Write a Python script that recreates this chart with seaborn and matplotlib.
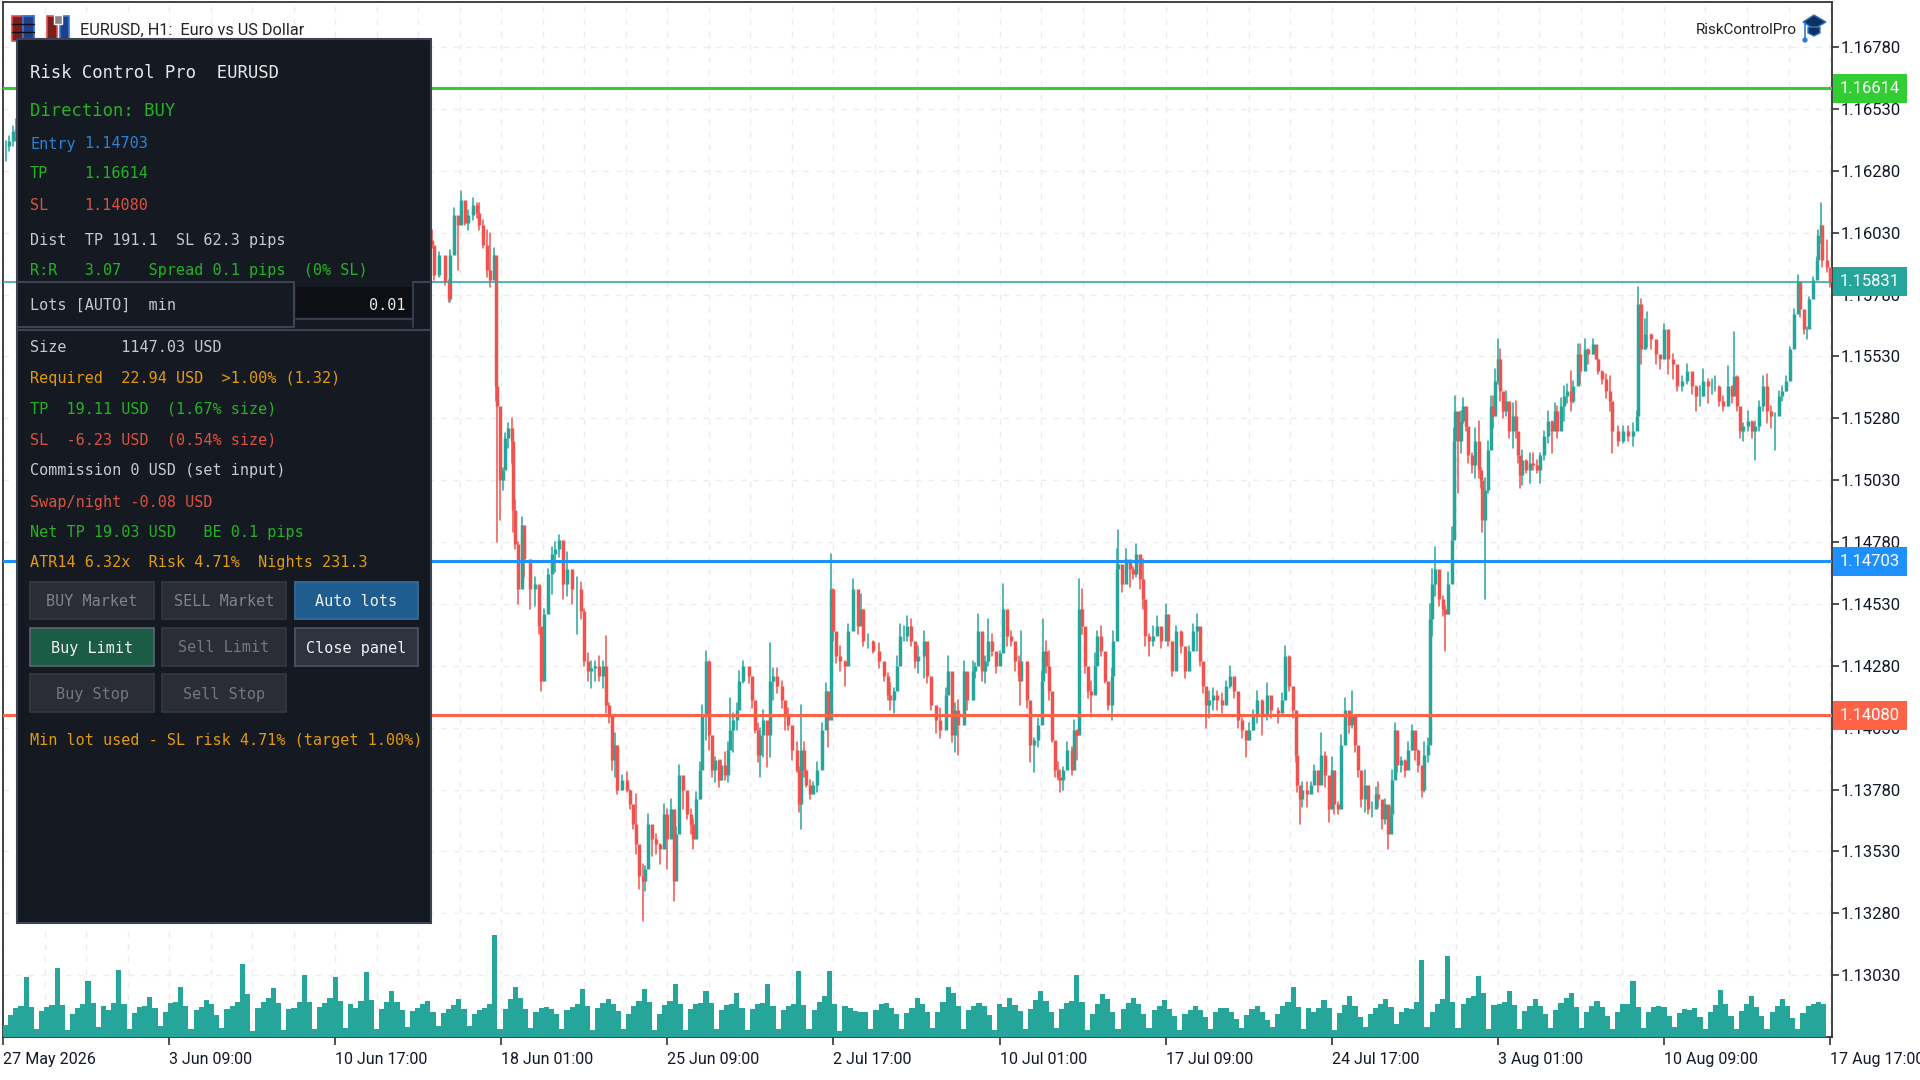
import numpy as np
import pandas as pd
import matplotlib
matplotlib.use("Agg")
import matplotlib.pyplot as plt
from matplotlib.patches import Rectangle, Polygon, Circle
import seaborn as sns

# ── data ───────────────────────────────────────────────────────────────────────
# prices are in 1/10000 of a dollar, bar = hours counted from 27 May 2026
price_ticks = [1.16780, 1.16530, 1.16280, 1.16030, 1.15780, 1.15530, 1.15280, 1.15030,
               1.14780, 1.14530, 1.14280, 1.14030, 1.13780, 1.13530, 1.13280, 1.13030]
time_labels = ["27 May 2026", "3 Jun 09:00", "10 Jun 17:00", "18 Jun 01:00", "25 Jun 09:00", "2 Jul 17:00",
               "10 Jul 01:00", "17 Jul 09:00", "24 Jul 17:00", "3 Aug 01:00", "10 Aug 09:00", "17 Aug 17:00"]

tp_price = 1.16614
entry_price = 1.14703
sl_price = 1.14080
last_price = 1.15831

bars = [2,5,8,10,330,333,335,339,343,346,
        347,350,353,356,359,361,365,368,370,373,
        376,378,381,383,384,386,388,390,392,395,
        396,398,400,403,405,409,413,416,418,420,
        423,426,429,432,435,438,442,446,449,451,
        454,457,460,463,466,468,471,473,475,477,
        481,485,487,489,492,494,497,499,501,504,
        507,510,513,516,519,521,523,525,528,531,
        534,536,538,541,543,546,548,551,553,556,
        558,561,563,565,567,570,572,575,579,582,
        584,586,588,590,593,596,598,601,605,607,
        610,613,617,618,620,622,624,627,629,632,
        636,639,641,643,645,647,650,654,656,660,
        664,666,668,672,676,680,684,687,689,692,
        694,697,700,702,705,708,711,715,718,721,
        725,728,732,734,737,739,742,746,749,753,
        755,757,760,763,765,768,771,774,777,780,
        783,786,789,790,791,795,798,801,804,807,
        808,810,812,815,817,819,821,823,826,830,
        832,834,836,838,840,843,845,848,850,853,
        856,858,861,862,865,866,869,872,875,878,
        880,883,885,887,890,893,896,899,903,905,
        908,911,915,918,921,924,927,930,932,934,
        937,940,943,947,950,953,956,959,962,965,
        968,971,974,978,982,985,990,993,996,999,
        1002,1004,1005,1007,1009,1013,1016,1018,1021,1024,
        1027,1030,1032,1034,1037,1039,1042,1045,1048,1050,
        1052,1055,1058,1060,1063,1066,1068,1071,1073,1076,
        1078,1079,1081,1083,1086,1089,1091,1094,1097,1099,
        1102,1104,1107,1108,1110,1112,1115,1118,1120,1122,
        1125,1127,1128,1130,1132,1134,1136,1138,1141,1143,
        1146,1148,1149,1151,1153,1156,1157,1159,1161,1163,
        1165,1167,1170,1173,1175,1177,1178,1180,1183,1186,
        1188,1191,1194,1197,1200,1203,1205,1207,1210,1212,
        1215,1218,1219,1223,1225,1229,1231,1235,1237,1239,
        1242,1245,1248,1250,1254,1258,1262,1266,1269,1270,
        1272,1275,1277,1280,1284,1287,1290,1293,1297,1300,
        1304,1308,1312,1315,1318,1320,1324,1327,1330,1333,
        1336,1340,1343,1344,1347,1349,1351,1355,1358,1361,
        1364,1367,1370,1373,1376,1379,1382,1385,1388,1391,
        1394,1396,1399,1401,1403,1406,1409,1410,1412,1413,
        1417,1419]

highs = [11640,11642,11646,11649,11604,11604,11597,11595,11589,11584,
         11596,11613,11608,11620,11614,11612,11617,11615,11615,11608,
         11604,11603,11597,11589,11542,11506,11508,11522,11526,11528,
         11523,11495,11478,11488,11474,11468,11464,11457,11442,11451,
         11467,11476,11478,11481,11468,11474,11463,11464,11462,11451,
         11433,11430,11430,11432,11430,11440,11413,11403,11401,11386,
         11384,11385,11378,11370,11376,11354,11348,11347,11368,11362,
         11360,11356,11372,11370,11374,11347,11363,11388,11381,11374,
         11370,11366,11377,11389,11412,11434,11430,11393,11391,11390,
         11390,11393,11397,11415,11409,11413,11426,11430,11426,11423,
         11409,11405,11403,11410,11403,11437,11427,11427,11422,11411,
         11411,11403,11397,11387,11412,11397,11386,11382,11381,11389,
         11405,11421,11415,11473,11459,11438,11436,11430,11445,11463,
         11457,11457,11448,11441,11438,11437,11429,11425,11421,11419,
         11432,11445,11444,11448,11447,11437,11436,11442,11437,11423,
         11409,11411,11419,11432,11414,11413,11414,11430,11419,11430,
         11429,11449,11432,11432,11447,11441,11432,11434,11461,11448,
         11442,11436,11432,11430,11442,11418,11406,11399,11407,11426,
         11447,11438,11434,11407,11391,11389,11386,11387,11397,11395,
         11406,11402,11463,11459,11434,11426,11422,11433,11442,11444,
         11427,11419,11427,11442,11475,11483,11467,11475,11470,11468,
         11477,11471,11471,11449,11441,11444,11448,11441,11453,11441,
         11436,11444,11442,11430,11436,11445,11449,11441,11429,11417,
         11418,11419,11418,11417,11422,11428,11422,11415,11407,11401,
         11405,11410,11418,11414,11421,11414,11411,11417,11436,11432,
         11415,11406,11387,11377,11381,11381,11381,11388,11384,11401,
         11393,11379,11391,11378,11373,11400,11415,11409,11418,11403,
         11394,11383,11386,11374,11373,11379,11381,11373,11374,11363,
         11371,11386,11405,11392,11391,11390,11397,11404,11401,11394,
         11386,11397,11399,11453,11467,11476,11461,11456,11452,11466,
         11484,11524,11537,11524,11531,11536,11531,11522,11514,11524,
         11527,11508,11502,11504,11519,11537,11537,11548,11560,11556,
         11535,11539,11529,11534,11535,11522,11510,11515,11511,11514,
         11514,11511,11514,11523,11531,11527,11534,11533,11536,11541,
         11542,11547,11543,11558,11558,11560,11556,11560,11554,11552,
         11547,11546,11545,11525,11525,11525,11525,11526,11531,11581,
         11576,11568,11571,11562,11557,11553,11566,11557,11554,11546,
         11545,11550,11546,11541,11541,11548,11544,11544,11545,11541,
         11537,11549,11541,11563,11545,11530,11526,11531,11527,11527,
         11535,11545,11546,11533,11530,11539,11541,11545,11557,11572,
         11586,11583,11571,11565,11577,11585,11593,11604,11615,11603,
         11600,11588]

lows = [11632,11636,11638,11640,11597,11597,11584,11585,11582,11575,
        11575,11600,11588,11609,11606,11604,11608,11609,11604,11597,
        11585,11581,11587,11535,11478,11487,11499,11513,11516,11510,
        11482,11475,11453,11463,11464,11451,11452,11441,11418,11434,
        11452,11457,11466,11472,11455,11456,11453,11441,11447,11428,
        11422,11419,11422,11422,11419,11409,11405,11386,11383,11376,
        11378,11377,11370,11362,11352,11338,11325,11337,11348,11351,
        11352,11348,11358,11346,11359,11333,11350,11366,11370,11366,
        11360,11354,11369,11374,11393,11398,11394,11383,11381,11379,
        11383,11382,11381,11399,11393,11402,11411,11421,11421,11411,
        11401,11389,11383,11391,11387,11391,11414,11417,11411,11402,
        11402,11390,11385,11369,11362,11383,11379,11374,11376,11377,
        11389,11406,11395,11414,11438,11429,11426,11420,11436,11448,
        11441,11448,11436,11435,11433,11427,11422,11414,11410,11409,
        11422,11436,11438,11438,11436,11427,11425,11423,11421,11410,
        11401,11399,11410,11417,11397,11393,11392,11419,11410,11421,
        11423,11430,11422,11421,11428,11432,11425,11430,11440,11436,
        11436,11426,11422,11412,11428,11411,11389,11385,11395,11407,
        11425,11425,11414,11397,11383,11382,11377,11378,11389,11384,
        11397,11390,11409,11441,11425,11415,11409,11423,11433,11432,
        11421,11410,11406,11430,11442,11463,11458,11464,11460,11463,
        11464,11459,11451,11436,11432,11436,11441,11435,11440,11436,
        11424,11434,11433,11423,11428,11437,11434,11428,11417,11403,
        11407,11410,11410,11409,11417,11419,11415,11403,11399,11391,
        11398,11402,11405,11400,11406,11407,11405,11410,11423,11418,
        11407,11389,11377,11364,11371,11371,11376,11381,11377,11383,
        11379,11365,11374,11368,11368,11387,11401,11401,11403,11393,
        11383,11371,11369,11368,11367,11371,11371,11362,11364,11354,
        11361,11370,11387,11385,11385,11383,11387,11394,11390,11385,
        11375,11377,11389,11399,11440,11456,11452,11448,11434,11449,
        11467,11484,11503,11498,11514,11526,11523,11510,11506,11504,
        11504,11500,11482,11455,11498,11524,11524,11537,11542,11535,
        11528,11529,11520,11516,11520,11510,11500,11501,11506,11502,
        11507,11506,11502,11511,11518,11514,11526,11520,11529,11527,
        11534,11531,11534,11542,11542,11549,11550,11554,11552,11546,
        11542,11536,11531,11514,11517,11518,11519,11517,11526,11530,
        11550,11556,11557,11556,11550,11548,11553,11546,11544,11539,
        11539,11542,11538,11531,11533,11537,11534,11538,11539,11533,
        11531,11533,11534,11542,11531,11520,11519,11523,11520,11511,
        11523,11531,11526,11524,11515,11531,11535,11539,11550,11562,
        11576,11569,11562,11560,11572,11579,11585,11593,11599,11589,
        11587,11581]

closes = [11638,11640,11644,11645,11600,11598,11586,11594,11583,11576,
          11594,11610,11606,11616,11607,11610,11614,11611,11606,11598,
          11588,11584,11594,11541,11533,11503,11507,11520,11524,11519,
          11491,11477,11459,11485,11471,11459,11461,11444,11422,11449,
          11465,11473,11475,11479,11461,11467,11459,11459,11450,11430,
          11426,11427,11428,11424,11428,11412,11408,11390,11396,11378,
          11382,11378,11372,11364,11356,11343,11341,11346,11364,11358,
          11356,11354,11368,11358,11370,11341,11360,11384,11378,11368,
          11364,11358,11374,11386,11408,11430,11400,11386,11390,11382,
          11388,11384,11394,11402,11406,11410,11422,11428,11424,11414,
          11402,11392,11400,11406,11400,11422,11424,11420,11414,11408,
          11404,11394,11386,11372,11394,11386,11380,11376,11380,11386,
          11402,11418,11406,11459,11442,11432,11430,11428,11442,11459,
          11444,11451,11438,11438,11434,11430,11424,11416,11414,11418,
          11428,11440,11440,11444,11438,11430,11432,11438,11424,11412,
          11406,11402,11416,11426,11400,11410,11404,11426,11414,11426,
          11428,11442,11426,11430,11438,11434,11428,11433,11451,11440,
          11438,11430,11424,11422,11430,11414,11396,11398,11404,11422,
          11434,11428,11418,11398,11386,11383,11382,11386,11394,11386,
          11402,11400,11451,11444,11428,11418,11416,11428,11440,11434,
          11422,11412,11424,11438,11467,11469,11461,11471,11467,11465,
          11473,11463,11455,11440,11438,11440,11444,11438,11449,11438,
          11426,11442,11436,11426,11434,11442,11444,11430,11420,11412,
          11414,11416,11414,11412,11420,11424,11418,11406,11402,11398,
          11402,11408,11414,11408,11416,11410,11409,11414,11432,11420,
          11410,11392,11380,11374,11378,11376,11380,11386,11380,11392,
          11384,11370,11386,11372,11370,11396,11410,11404,11408,11396,
          11386,11374,11380,11370,11370,11376,11374,11366,11372,11360,
          11368,11382,11402,11388,11390,11386,11394,11402,11394,11388,
          11378,11392,11396,11447,11461,11467,11455,11451,11449,11461,
          11479,11519,11531,11519,11527,11533,11525,11513,11509,11519,
          11507,11503,11487,11499,11515,11533,11529,11543,11552,11539,
          11531,11535,11523,11529,11523,11513,11505,11511,11507,11510,
          11509,11507,11513,11521,11527,11523,11531,11523,11533,11537,
          11539,11535,11541,11554,11547,11556,11554,11558,11552,11547,
          11544,11539,11535,11523,11519,11523,11521,11523,11529,11574,
          11556,11562,11562,11560,11554,11552,11564,11552,11550,11541,
          11543,11547,11541,11537,11537,11543,11541,11541,11541,11535,
          11533,11541,11537,11545,11533,11523,11525,11527,11523,11525,
          11533,11541,11531,11529,11529,11537,11539,11543,11556,11570,
          11583,11572,11564,11564,11576,11584,11592,11602,11606,11592,
          11589,11583]

# tick volume, one value for every four hourly bars
volumes = [1200,2200,2900,3100,6000,3000, 800,2600,3000,3200,6900,3200,
           700,2300,2900,3300,5600,3400, 1000,3100,2700,3400,6700,3300,
           800,2400,3000,3100,4000,2900, 1100,2500,3400,3500,5000,3100,
           800,2700,3000,3700,3300,2200, 900,2800,3100,3500,7300,4300,
           600,2900,3500,3900,4900,3400, 700,2800,2900,3500,6200,3500,
           800,3000,3400,3900,6000,3600, 900,3300,2900,3600,6500,3700,
           800,2800,3500,4600,3500,2700, 1000,2600,2900,3300,3600,2500,
           1100,2400,2800,3200,3800,2800, 1100,2300,2700,2900,3300,10200,
           800,2800,3800,5000,3900,2800, 900,2500,2900,3000,2800,2300,
           800,2700,3000,3300,4800,3100, 700,2900,3400,3800,3300,2600,
           800,2300,3100,3600,4800,3500, 700,2300,3200,3600,5300,3300,
           700,2800,3300,3400,4600,3400, 800,2700,3200,3300,4400,2900,
           700,2800,3300,3400,5300,3100, 800,2700,3100,3300,6600,3200,
           800,2700,3500,4100,6600,3300, 600,3100,2900,2600,2500,2500,
           800,2700,3300,3400,2900,2300, 800,2400,2900,3900,3300,2500,
           900,2500,3500,5000,4400,3100, 800,2700,3100,3400,3100,2200,
           700,3300,3000,3900,3200,2600, 800,2800,3700,4600,3600,2500,
           900,2800,3400,3600,6200,3500, 700,2300,3300,4300,3800,2500,
           800,2800,3400,3900,3300,2300, 900,2700,3100,3700,2800,2100,
           700,2300,2700,3100,2700,2000, 800,2500,2900,2900,2500,1800,
           900,2200,2800,3100,2500,1700, 1000,2300,3100,3500,5000,3000,
           800,2900,2500,2900,3700,2900, 700,2400,3200,4100,3100,2000,
           1000,2300,2900,3300,3800,3000, 1300,2500,2900,2800,3500,7700,
           1000,2500,3300,3800,8100,3500, 900,3300,3900,4100,6100,4400,
           800,3200,3300,3500,4600,3200, 800,2600,3100,3800,3100,2300,
           900,2700,3400,3900,4400,3000, 900,2500,3100,3600,3000,2100,
           800,2500,3300,3300,5600,3000, 900,2500,3000,3100,3000,2100,
           1000,2400,2800,2700,2900,2000, 800,2500,3200,4700,3300,2100,
           800,2600,3300,4100,3000,2100, 800,2500,3100,3800,3100,1900,
           800,2400,3100,3300,3500,3300]

TEAL = "#26A69A"
RED = "#EF5350"
GREEN_LINE = "#32CD32"
BLUE_LINE = "#1E90FF"
RED_LINE = "#FF6347"
SCALE_FONT = ["Roboto", "DejaVu Sans"]
MONO = "DejaVu Sans Mono"

sns.set_theme(style="white")
plt.rcParams["font.family"] = SCALE_FONT
plt.rcParams["axes.unicode_minus"] = False

W, H = 1920, 1080
fig = plt.figure(figsize=(W / 100, H / 100), dpi=100, facecolor="white")
axes_rect = [3 / W, 1 - 1037 / H, (1832 - 3) / W, (1037 - 2) / H]
ax = fig.add_axes(axes_rect)
ax_vol = fig.add_axes(axes_rect)
ax.set_zorder(1)
ax_vol.set_zorder(2)
ax_vol.patch.set_visible(False)

# ── candles ────────────────────────────────────────────────────────────────────
bar_arr = np.array(bars)
high_arr = np.array(highs) / 1e4
low_arr = np.array(lows) / 1e4
close_arr = np.array(closes) / 1e4
open_arr = np.r_[close_arr[0], close_arr[:-1]]
side = np.where(close_arr >= open_arr, "up", "down")
candle_id = np.arange(len(bar_arr))

wicks = pd.DataFrame({
    "bar": np.r_[bar_arr, bar_arr],
    "price": np.r_[high_arr, low_arr],
    "candle": np.r_[candle_id, candle_id],
    "side": np.r_[side, side],
})
bodies = pd.DataFrame({
    "bar": np.r_[bar_arr, bar_arr],
    "price": np.r_[open_arr, close_arr],
    "candle": np.r_[candle_id, candle_id],
    "side": np.r_[side, side],
})
palette = {"up": TEAL, "down": RED}

sns.lineplot(data=wicks, x="bar", y="price", hue="side", units="candle", estimator=None, sort=False,
             palette=palette, legend=False, linewidth=1.1, ax=ax, zorder=3)
sns.lineplot(data=bodies, x="bar", y="price", hue="side", units="candle", estimator=None, sort=False,
             palette=palette, legend=False, linewidth=2.5, ax=ax, zorder=3, solid_capstyle="butt")

# ── levels ─────────────────────────────────────────────────────────────────────
ax.axhline(tp_price, color=GREEN_LINE, lw=2.2, zorder=4)
ax.axhline(last_price, color=TEAL, lw=1.4, alpha=0.8, zorder=4)
ax.axhline(entry_price, color=BLUE_LINE, lw=2.2, zorder=4)
ax.axhline(sl_price, color=RED_LINE, lw=2.2, zorder=4)

# ── axes ───────────────────────────────────────────────────────────────────────
bars_per_label = 129
x_major = np.arange(len(time_labels)) * bars_per_label
x_minor = np.arange(0, 1421, bars_per_label / 4)
ax.set_xlim(0, 1420.5)
ax.set_ylim(1.12780, 1.16962)
ax.set_xlabel("")
ax.set_ylabel("")
ax.set_xticks(x_major)
ax.set_xticks(x_minor, minor=True)
ax.set_xticklabels(time_labels, ha="left", fontsize=11.5, color="#111827")
ax.set_yticks(price_ticks)
ax.set_yticklabels([f"{v:.5f}" for v in price_ticks], fontsize=12, color="#111827")
ax.yaxis.tick_right()
ax.tick_params(axis="x", which="major", length=6, width=1.2, color="#333333", pad=5, bottom=True)
ax.tick_params(axis="x", which="minor", length=0)
ax.tick_params(axis="y", which="major", length=5, width=1.2, color="#333333", pad=1.5, right=True)
ax.grid(True, axis="x", which="both", color="#ececf0", linestyle=(0, (4, 5)), linewidth=1.0)
ax.grid(True, axis="y", which="major", color="#ececf0", linestyle=(0, (4, 5)), linewidth=1.0)
for s in ax.spines.values():
    s.set_visible(True)
    s.set_color("#333333")
    s.set_linewidth(1.3)

# price tags on the right scale
for value, colour in [(tp_price, GREEN_LINE), (last_price, TEAL), (entry_price, BLUE_LINE), (sl_price, RED_LINE)]:
    ax.text(1.0208, value, f"{value:.5f}", transform=ax.get_yaxis_transform(), ha="center", va="center",
            fontsize=12, color="white", zorder=6, clip_on=False,
            bbox=dict(boxstyle="square,pad=0.42", fc=colour, ec="none"))

# ── volume ─────────────────────────────────────────────────────────────────────
vol_bars = np.arange(len(volumes)) * 4 + 2
sns.barplot(x=vol_bars, y=volumes, native_scale=True, color=TEAL, saturation=1, width=1.0,
            errorbar=None, linewidth=0, ax=ax_vol)
ax_vol.set_xlim(0, 1420.5)
ax_vol.set_ylim(0, 103500)
ax_vol.axis("off")

# ── overlay in screen pixels ───────────────────────────────────────────────────
ov = fig.add_axes([0, 0, 1, 1])
ov.set_zorder(5)
ov.set_xlim(0, W)
ov.set_ylim(H, 0)
ov.axis("off")

def box(x0, y0, x1, y1, fc, ec="none", lw=0.0):
    ov.add_patch(Rectangle((x0, y0), x1 - x0, y1 - y0, fc=fc, ec=ec, lw=lw))

# chart caption and icons
box(12, 16, 34, 41, "#7a1f1f", "#e05050", 1.2)
box(23, 16, 34, 41, "#1f3f8a", "#3a78e0", 1.2)
for yy in (24, 32):
    ov.plot([12, 34], [yy, yy], color="#111111", lw=1.0)
box(47, 16, 57, 41, "#7a1f1f", "#e05050", 1.2)
box(60, 16, 69, 41, "#1f3f8a", "#3a78e0", 1.2)
box(54, 15, 62, 24, "#888888", "white", 1.0)
ov.text(80, 30, "EURUSD, H1:  Euro vs US Dollar", fontsize=11.7, color="#222222", va="center")
ov.text(1797, 30, "RiskControlPro", fontsize=11, color="#222222", va="center", ha="right")
ov.add_patch(Polygon([(1803, 22), (1814, 15), (1826, 22), (1814, 29)], fc="#12305e", ec="#2a7ad8", lw=1.0))
ov.add_patch(Polygon([(1808, 27), (1820, 27), (1820, 33), (1814, 36), (1808, 33)], fc="#12305e", ec="#2a7ad8", lw=1.0))
ov.plot([1805, 1805], [23, 38], color="#2a7ad8", lw=1.2)
ov.add_patch(Circle((1805, 40), 2.6, fc="#2a7ad8", ec="none"))

# risk panel
PANEL = "#151922"
EDGE = "#3c4454"
box(17, 39, 431, 923, PANEL, EDGE, 1.5)

WHITE = "#e6e8ea"
GREY = "#c6cace"
LIME = "#24b324"
BLUE = "#2f80d8"
SALMON = "#dc5240"
ORANGE = "#e39a0c"

panel_lines = [
    (30, 73, "Risk Control Pro  EURUSD", WHITE, 12.4),
    (30, 111, "Direction: BUY", LIME, 12.4),
    (30, 144, "Entry", BLUE, 10.9), (84, 144, "1.14703", BLUE, 10.9),
    (30, 174, "TP", LIME, 10.9), (84, 174, "1.16614", LIME, 10.9),
    (30, 205, "SL", SALMON, 10.9), (84, 205, "1.14080", SALMON, 10.9),
    (30, 240, "Dist  TP 191.1  SL 62.3 pips", GREY, 10.9),
    (30, 271, "R:R   3.07   Spread 0.1 pips  (0% SL)", LIME, 10.9),
    (30, 305, "Lots [AUTO]  min", GREY, 10.9),
    (30, 348, "Size      1147.03 USD", GREY, 10.9),
    (30, 378, "Required  22.94 USD  >1.00% (1.32)", ORANGE, 10.9),
    (30, 409, "TP  19.11 USD  (1.67% size)", LIME, 10.9),
    (30, 440, "SL  -6.23 USD  (0.54% size)", SALMON, 10.9),
    (30, 471, "Commission 0 USD (set input)", GREY, 10.9),
    (30, 502, "Swap/night -0.08 USD", SALMON, 10.9),
    (30, 533, "Net TP 19.03 USD   BE 0.1 pips", LIME, 10.9),
    (30, 563, "ATR14 6.32x  Risk 4.71%  Nights 231.3", ORANGE, 10.9),
    (30, 740, "Min lot used - SL risk 4.71% (target 1.00%)", ORANGE, 10.9),
]
for px, py, label, colour, size in panel_lines:
    ov.text(px, py, label, color=colour, fontsize=size, family=MONO, va="center", zorder=8)

# lots row
ov.plot([17, 294, 294, 17], [282, 282, 327, 327], color=EDGE, lw=1.5)
ov.plot([413, 431], [282, 282], color=EDGE, lw=1.5)
ov.plot([17, 431], [330, 330], color=EDGE, lw=1.5)
ov.plot([413, 413], [282, 327], color=EDGE, lw=1.2)
box(296, 287, 412, 317, "#0d0f14")
ov.plot([296, 413], [319, 319], color=EDGE, lw=1.2)
ov.text(406, 305, "0.01", color=WHITE, fontsize=10.9, family=MONO, va="center", ha="right")

# buttons
buttons = [
    (30, 154, 582, 619, "BUY Market", "#2a2d35", "#80848a", "#33363e"),
    (162, 286, 582, 619, "SELL Market", "#2a2d35", "#80848a", "#33363e"),
    (295, 418, 582, 619, "Auto lots", "#1f5c8f", "#f0f2f4", "#3a6a94"),
    (30, 154, 628, 666, "Buy Limit", "#1a5c45", "#f0f2f4", "#56626e"),
    (162, 286, 628, 666, "Sell Limit", "#2a2d35", "#74787e", "#33363e"),
    (295, 418, 628, 666, "Close panel", "#2f3340", "#f0f2f4", "#4a5262"),
    (30, 154, 674, 712, "Buy Stop", "#2a2d35", "#74787e", "#33363e"),
    (162, 286, 674, 712, "Sell Stop", "#2a2d35", "#74787e", "#33363e"),
]
for x0, x1, y0, y1, label, fc, tc, ec in buttons:
    box(x0, y0, x1, y1, fc, ec, 1.3)
    ov.text((x0 + x1) / 2, (y0 + y1) / 2 + 1, label, color=tc, fontsize=10.9, family=MONO, ha="center", va="center")

fig.savefig("out.png", dpi=100)
